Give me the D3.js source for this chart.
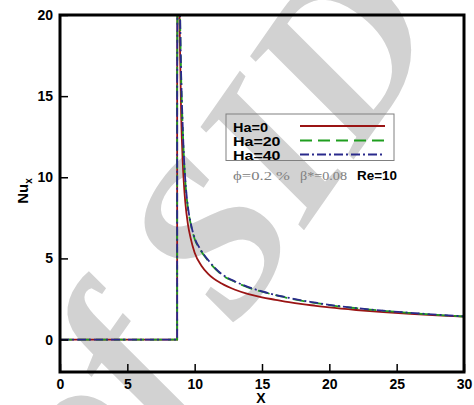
<!DOCTYPE html>
<html>
<head>
<meta charset="utf-8">
<script src="https://cdn.jsdelivr.net/npm/d3@7/dist/d3.min.js"></script>
<style>
  html, body { margin: 0; padding: 0; background: #fff; }
  svg { display: block; }
</style>
</head>
<body>
<svg id="chart" width="474" height="405"></svg>
<script>
// Local Nusselt number along the channel wall, for three Hartmann numbers
const seriesNames = ["Ha=0", "Ha=20", "Ha=40"];
const seriesColors = ["#9a1414", "#1f9e1f", "#2a2a8c"];
const seriesDash = [null, "12,6", "9,3,2,3"];

// heated section begins at X = 8.7 (Nu = 0 upstream)
const stepX = [0, 8.7, 8.7, 8.78];
const stepNu = [0, 0, 16, 34];

const xHa0 = [8.78, 8.85, 8.9, 9.0, 9.1, 9.2, 9.3, 9.5, 9.7, 10.0, 10.5, 11, 12, 13, 14, 15, 16, 17, 18, 19, 20, 22, 24, 26, 28, 30];
const nuHa0 = [34, 22.5, 18.5, 13.8, 11.2, 9.6, 8.5, 7.1, 6.25, 5.35, 4.55, 4.05, 3.45, 3.07, 2.8, 2.6, 2.45, 2.3, 2.18, 2.08, 1.98, 1.82, 1.69, 1.58, 1.49, 1.41];

const xHa20 = [8.78, 8.85, 8.9, 9.0, 9.1, 9.2, 9.3, 9.5, 9.7, 10.0, 10.4, 11, 12, 13, 14, 15, 16, 17, 18, 19, 20, 22, 24, 26, 28, 30];
const nuHa20 = [34, 25, 21, 16, 13.3, 11.2, 9.8, 8.1, 7.15, 6.2, 5.55, 4.85, 4.0, 3.55, 3.2, 2.95, 2.73, 2.55, 2.38, 2.25, 2.12, 1.93, 1.77, 1.64, 1.52, 1.42];

const xHa40 = [8.78, 8.85, 8.9, 9.0, 9.1, 9.2, 9.3, 9.5, 9.7, 10.0, 10.4, 11, 12, 13, 14, 15, 16, 17, 18, 19, 20, 22, 24, 26, 28, 30];
const nuHa40 = [34, 25.3, 21.3, 16.2, 13.45, 11.3, 9.9, 8.17, 7.2, 6.25, 5.6, 4.9, 4.04, 3.58, 3.23, 2.97, 2.75, 2.57, 2.4, 2.27, 2.14, 1.94, 1.78, 1.65, 1.53, 1.43];

const xTicks = [0, 5, 10, 15, 20, 25, 30];
const yTicks = [0, 5, 10, 15, 20];
const xMinor = d3.range(0, 31, 1);
const yMinor = d3.range(-2, 21, 1);

const svg = d3.select("#chart");
const plot = { left: 60, right: 464, top: 15, bottom: 372 };

const x = d3.scaleLinear().domain([0, 30]).range([plot.left, plot.right]);
const y = d3.scaleLinear().domain([-2, 20]).range([plot.bottom, plot.top]);

// faint archive stamp behind everything
svg.append("text")
  .attr("transform", "translate(272,276) rotate(-55)")
  .attr("text-anchor", "middle")
  .attr("font-family", "Liberation Serif, serif")
  .attr("font-style", "italic")
  .attr("font-weight", "bold")
  .attr("font-size", 220)
  .attr("fill", "#d2d2d2")
  .text("of SID");

svg.append("clipPath").attr("id", "clip")
  .append("rect")
  .attr("x", plot.left).attr("y", plot.top)
  .attr("width", plot.right - plot.left).attr("height", plot.bottom - plot.top);

const series = [
  d3.zip(xHa0, nuHa0),
  d3.zip(xHa20, nuHa20),
  d3.zip(xHa40, nuHa40)
];
const stepPts = d3.zip(stepX, stepNu);

const lineLin = d3.line().x(d => x(d[0])).y(d => y(d[1]));
const lineSmooth = d3.line().x(d => x(d[0])).y(d => y(d[1])).curve(d3.curveMonotoneX);

const curves = svg.append("g").attr("clip-path", "url(#clip)");
series.forEach((pts, i) => {
  curves.append("path")
    .attr("d", lineLin(stepPts) + lineSmooth(pts).replace(/^M[^LC]*/, ""))
    .attr("fill", "none")
    .attr("stroke", seriesColors[i])
    .attr("stroke-width", 1.8)
    .attr("stroke-dasharray", seriesDash[i]);
});

// axes: ticks point into the plot
const font = "Liberation Sans, Arial, sans-serif";
const gx = svg.append("g").attr("transform", `translate(0,${plot.bottom})`);
gx.call(d3.axisBottom(x).tickValues(xMinor).tickSize(-4).tickFormat(""));
gx.call(d3.axisBottom(x).tickValues(xTicks).tickSize(-8).tickPadding(7).tickFormat(d3.format("d")));
const gy = svg.append("g").attr("transform", `translate(${plot.left},0)`);
gy.call(d3.axisLeft(y).tickValues(yMinor).tickSize(-4).tickFormat(""));
gy.call(d3.axisLeft(y).tickValues(yTicks).tickSize(-8).tickPadding(7).tickFormat(d3.format("d")));

[gx, gy].forEach(g => {
  g.selectAll(".domain").remove();
  g.selectAll("line").attr("stroke", "#000").attr("stroke-width", 1.5);
  g.selectAll("text")
    .attr("font-family", font).attr("font-weight", "bold")
    .attr("font-size", 14).attr("fill", "#000");
});

svg.append("rect")
  .attr("x", plot.left).attr("y", plot.top)
  .attr("width", plot.right - plot.left).attr("height", plot.bottom - plot.top)
  .attr("fill", "none").attr("stroke", "#000").attr("stroke-width", 3);

// axis titles
svg.append("text")
  .attr("x", (plot.left + plot.right) / 2 - 1).attr("y", 403)
  .attr("text-anchor", "middle")
  .attr("font-family", font).attr("font-weight", "bold").attr("font-size", 14)
  .text("X");

const yt = svg.append("text")
  .attr("transform", "translate(28,191) rotate(-90)")
  .attr("text-anchor", "middle")
  .attr("font-family", font).attr("font-weight", "bold").attr("font-size", 15);
yt.append("tspan").text("Nu");
yt.append("tspan").attr("font-size", 10).attr("dy", 4).text("x");

// legend
const leg = svg.append("g");
leg.append("rect")
  .attr("x", 226).attr("y", 114).attr("width", 168).attr("height", 46.5)
  .attr("fill", "none").attr("stroke", "#808080").attr("stroke-width", 1);
const legBase = [131.5, 146, 160];
const legLen = [35, 47.5, 47.5];
seriesNames.forEach((name, i) => {
  leg.append("text")
    .attr("x", 233).attr("y", legBase[i])
    .attr("font-family", font).attr("font-weight", "bold").attr("font-size", 12)
    .attr("textLength", legLen[i]).attr("lengthAdjust", "spacingAndGlyphs")
    .text(name);
  leg.append("line")
    .attr("x1", 300).attr("x2", 385)
    .attr("y1", legBase[i] - 5.5).attr("y2", legBase[i] - 5.5)
    .attr("stroke", seriesColors[i]).attr("stroke-width", 2)
    .attr("stroke-dasharray", seriesDash[i]);
});

// parameters line
leg.append("text")
  .attr("x", 233).attr("y", 180)
  .attr("font-family", "Liberation Serif, serif").attr("font-size", 13).attr("fill", "#808080")
  .attr("textLength", 57).attr("lengthAdjust", "spacingAndGlyphs")
  .text("ϕ=0.2 %");
leg.append("text")
  .attr("x", 300).attr("y", 180)
  .attr("font-family", "Liberation Serif, serif").attr("font-size", 13).attr("fill", "#808080")
  .attr("textLength", 47).attr("lengthAdjust", "spacingAndGlyphs")
  .text("β*=0.08");
leg.append("text")
  .attr("x", 357).attr("y", 180)
  .attr("font-family", font).attr("font-weight", "bold").attr("font-size", 12)
  .attr("textLength", 40).attr("lengthAdjust", "spacingAndGlyphs")
  .text("Re=10");
</script>
</body>
</html>
